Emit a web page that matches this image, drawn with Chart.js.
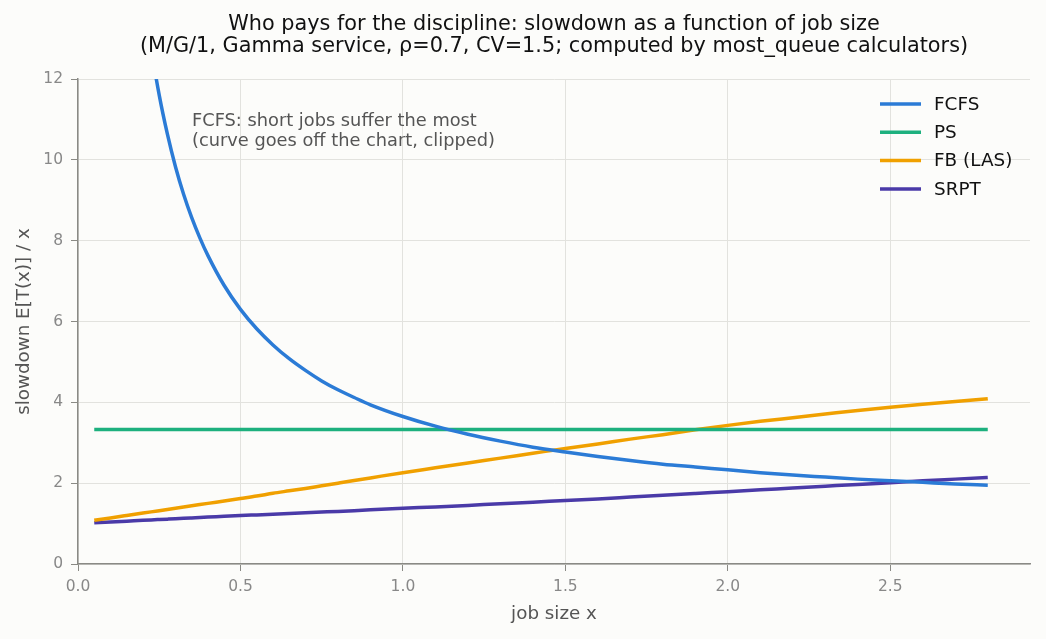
<!DOCTYPE html>
<html>
<head>
<meta charset="utf-8">
<script src="https://cdn.jsdelivr.net/npm/chart.js@4.4.1/dist/chart.umd.min.js"></script>
<style>
  html, body { margin: 0; padding: 0; background: #fcfcfa; }
  #wrap { width: 1046px; height: 639px; position: relative; }
</style>
</head>
<body>
<div id="wrap"><canvas id="chart" width="1046" height="639"></canvas></div>
<script>
// job sizes where the curves were read
const jobSize = [0.05, 0.1, 0.15, 0.2, 0.225, 0.25, 0.275, 0.3, 0.325, 0.35, 0.375, 0.4,
                 0.45, 0.5, 0.55, 0.6, 0.65, 0.7, 0.75, 0.8, 0.85, 0.9, 1.0, 1.1, 1.2, 1.3,
                 1.4, 1.5, 1.6, 1.7, 1.8, 1.9, 2.0, 2.1, 2.2, 2.3, 2.4, 2.5, 2.6, 2.7, 2.8];
// slowdown per discipline (FCFS goes way above 12 at the left, gets clipped)
const fcfs = [54, 27.5, 18.7, 14.25, 12.78, 11.6, 10.64, 9.83, 9.15, 8.57, 8.07, 7.63,
              6.89, 6.3, 5.82, 5.42, 5.08, 4.79, 4.53, 4.31, 4.12, 3.94, 3.65, 3.41, 3.21, 3.04,
              2.89, 2.77, 2.66, 2.56, 2.47, 2.4, 2.33, 2.26, 2.2, 2.15, 2.1, 2.06, 2.02, 1.98, 1.95];
const fb = [1.08, 1.14, 1.2, 1.26, 1.29, 1.32, 1.35, 1.38, 1.41, 1.44, 1.47, 1.5,
            1.56, 1.62, 1.68, 1.75, 1.81, 1.87, 1.935, 2.0, 2.065, 2.13, 2.26, 2.38, 2.5, 2.62,
            2.74, 2.86, 2.97, 3.09, 3.2, 3.32, 3.43, 3.53, 3.62, 3.71, 3.8, 3.88, 3.95, 4.02, 4.09];
const srpt = [1.02, 1.04, 1.06, 1.08, 1.09, 1.1, 1.11, 1.12, 1.13, 1.14, 1.15, 1.16,
              1.18, 1.2, 1.215, 1.23, 1.25, 1.27, 1.285, 1.3, 1.32, 1.34, 1.38, 1.41, 1.45, 1.49,
              1.53, 1.57, 1.61, 1.655, 1.7, 1.745, 1.79, 1.835, 1.88, 1.925, 1.97, 2.01, 2.06, 2.1, 2.14];
// PS is flat, only the two ends
const psSize = [0.05, 2.8];
const ps = [3.33, 3.33];

const seriesNames = ['FCFS', 'PS', 'FB (LAS)', 'SRPT'];
const seriesColors = ['#2b7bd6', '#1db07e', '#f0a000', '#4a3aa8'];
const xTicks = [0, 0.5, 1.0, 1.5, 2.0, 2.5];
const yTicks = [0, 2, 4, 6, 8, 10, 12];

const titleLines = ['Who pays for the discipline: slowdown as a function of job size',
                    '(M/G/1, Gamma service, \u03c1=0.7, CV=1.5; computed by most_queue calculators)'];
const noteLines = ['FCFS: short jobs suffer the most', '(curve goes off the chart, clipped)'];

const FONT = '"DejaVu Sans", sans-serif';

function pts(xs, ys) {
    return xs.map((x, i) => ({x: x, y: ys[i]}));
}

// title, note and legend drawn by hand so they sit like the original
const extras = {
    id: 'extras',
    afterDraw(chart) {
        let ctx = chart.ctx;
        let area = chart.chartArea;
        ctx.save();
        ctx.fillStyle = '#111';
        ctx.font = '20.8px ' + FONT;
        ctx.textAlign = 'center';
        ctx.textBaseline = 'middle';
        let cx = (area.left + area.right) / 2;
        ctx.fillText(titleLines[0], cx, 25);
        ctx.fillText(titleLines[1], cx, 47);

        ctx.fillStyle = '#555';
        ctx.font = '17.8px ' + FONT;
        ctx.textAlign = 'left';
        ctx.fillText(noteLines[0], 192, 121);
        ctx.fillText(noteLines[1], 192, 141);

        ctx.fillStyle = '#111';
        ctx.font = '18.4px ' + FONT;
        seriesNames.forEach((name, i) => {
            let y = 104 + i * 28.3;
            ctx.strokeStyle = seriesColors[i];
            ctx.lineWidth = 3.5;
            ctx.beginPath();
            ctx.moveTo(880, y);
            ctx.lineTo(921, y);
            ctx.stroke();
            ctx.fillText(name, 934, y + 1);
        });
        ctx.restore();
    }
};

let ctx = document.getElementById('chart').getContext('2d');
let sets = [pts(jobSize, fcfs), pts(psSize, ps), pts(jobSize, fb), pts(jobSize, srpt)];
let chart = new Chart(ctx, {
    type: 'line',
    data: {
        datasets: sets.map((d, i) => ({
            label: seriesNames[i],
            data: d,
            borderColor: seriesColors[i],
            backgroundColor: seriesColors[i],
            borderWidth: 3.5,
            pointRadius: 0,
            fill: false,
            cubicInterpolationMode: 'monotone'
        }))
    },
    options: {
        responsive: false,
        animation: false,
        devicePixelRatio: 1,
        layout: { padding: { top: 79, right: 16, left: 0, bottom: 0 } },
        plugins: {
            legend: { display: false },
            title: { display: false },
            tooltip: { enabled: false }
        },
        scales: {
            x: {
                type: 'linear',
                min: 0,
                max: 2.93,
                afterFit(scale) { scale.height = 75; },
                afterBuildTicks(scale) { scale.ticks = xTicks.map(v => ({value: v})); },
                ticks: {
                    color: '#888',
                    font: { family: FONT, size: 15.5 },
                    padding: 7,
                    maxRotation: 0,
                    callback: v => v.toFixed(1)
                },
                grid: {
                    color: '#e2e2de',
                    lineWidth: 1,
                    tickLength: 7,
                    tickColor: '#8a8a85'
                },
                border: { color: '#8a8a85', width: 1.5 },
                title: {
                    display: true,
                    text: 'job size x',
                    color: '#555',
                    font: { family: FONT, size: 18.3 },
                    padding: { top: 0, bottom: 14 }
                }
            },
            y: {
                min: 0,
                max: 12,
                afterFit(scale) { scale.width = 78; },
                afterBuildTicks(scale) { scale.ticks = yTicks.map(v => ({value: v})); },
                ticks: {
                    color: '#888',
                    font: { family: FONT, size: 15.5 },
                    padding: 8
                },
                grid: {
                    color: '#e2e2de',
                    lineWidth: 1,
                    tickLength: 7,
                    tickColor: '#8a8a85'
                },
                border: { color: '#8a8a85', width: 1.5 },
                title: {
                    display: true,
                    text: 'slowdown E[T(x)] / x',
                    color: '#555',
                    font: { family: FONT, size: 18.3 },
                    padding: { top: 13, bottom: 0 }
                }
            }
        }
    },
    plugins: [extras]
});
</script>
</body>
</html>
